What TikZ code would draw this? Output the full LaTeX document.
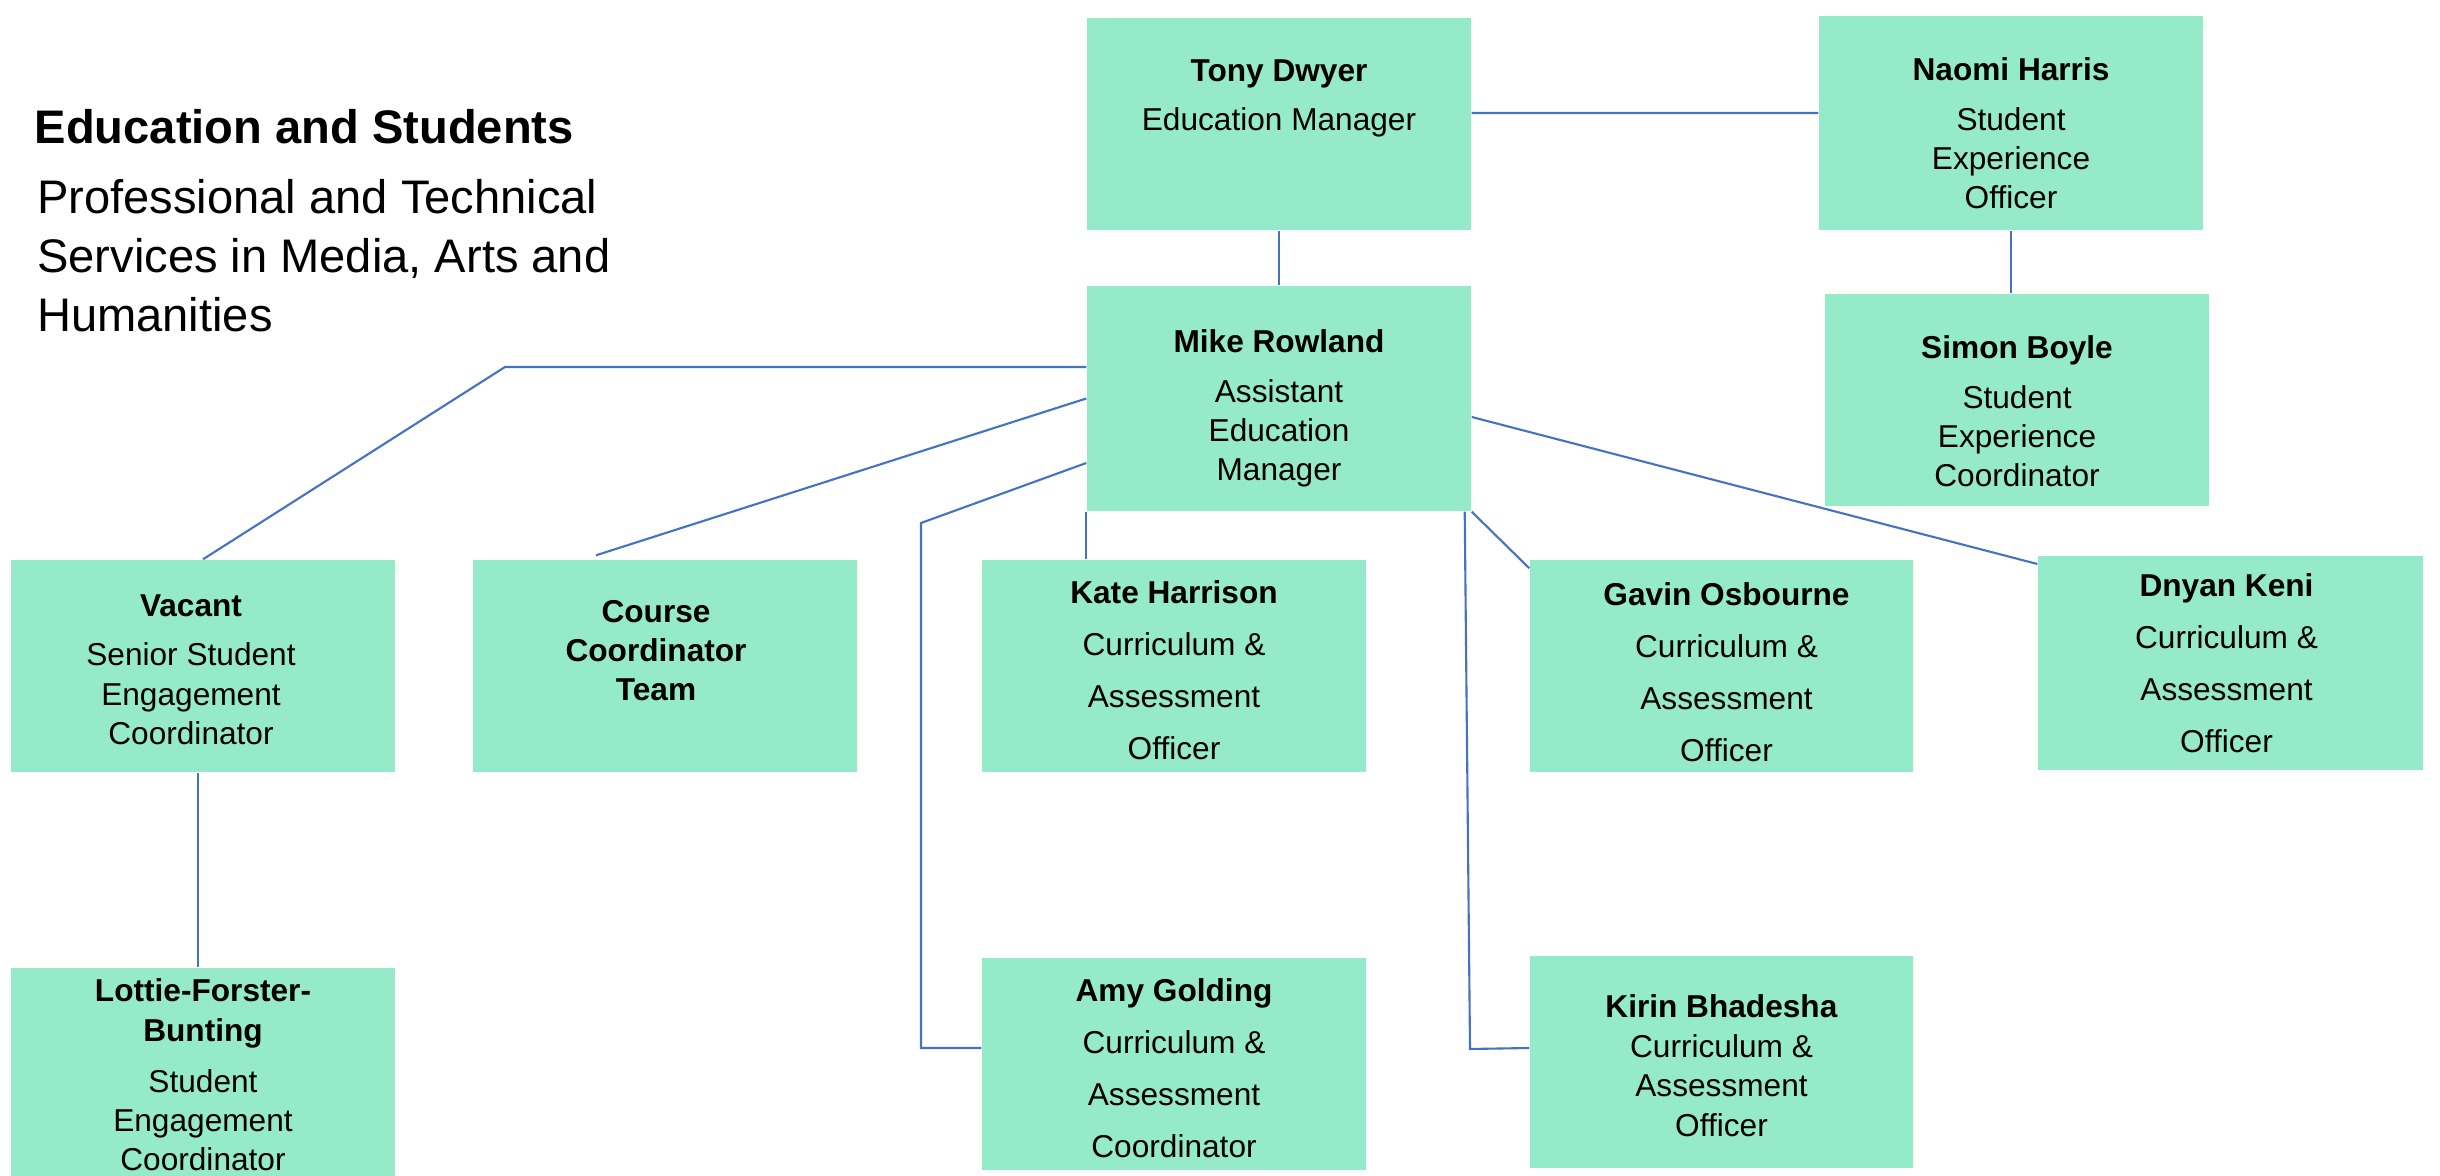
\documentclass[tikz,border=0pt]{standalone}
\usepackage{fontspec}
\setmainfont{Liberation Sans}
\usepackage{tikz}
\usetikzlibrary{positioning}
\definecolor{mint}{RGB}{149,234,202}
\definecolor{linkblue}{RGB}{68,114,196}
\tikzset{
    post/.style={
    rectangle,fill=mint,minimum width=3.84cm,minimum height=2.12cm,inner sep=0pt
    },
    info/.style={
    align=center,inner sep=0pt,font=\fontsize{9}{11.2}\selectfont
    },
    winfo/.style={
    align=center,inner sep=0pt,font=\fontsize{9}{14.8}\selectfont
    },
    link/.style={
    draw=linkblue,line width=0.6pt
    },
}
\begin{document}
\begin{tikzpicture}
   \useasboundingbox (0,0) rectangle (24.4,-11.76);

   %heading
   \node[anchor=base west,inner sep=0pt,font=\fontsize{13.4}{16}\selectfont\bfseries] (title) at (0.34,-1.44) {Education and Students};
   \node[anchor=north west,inner sep=0pt,align=left,font=\fontsize{13.4}{16.8}\selectfont] (subtitle) at (0.365,-1.786) {Professional and Technical\\Services in Media, Arts and\\Humanities};

   %top
   \node[post] (tony) at (12.79,-1.24) {};
   \node[post,minimum height=2.14cm] (naomi) at (20.11,-1.23) {};
   \node[post,minimum height=2.25cm] (mike) at (12.79,-3.985) {};
   \node[post] (simon) at (20.17,-4.00) {};

   %second row
   \node[post] (vacant) at (2.03,-6.66) {};
   \node[post] (course) at (6.65,-6.66) {};
   \node[post] (kate) at (11.74,-6.66) {};
   \node[post,minimum width=3.83cm] (gavin) at (17.215,-6.66) {};
   \node[post,minimum width=3.85cm,minimum height=2.14cm] (dnyan) at (22.305,-6.63) {};

   %bottom row
   \node[post,minimum height=2.08cm] (lottie) at (2.03,-10.72) {};
   \node[post] (amy) at (11.74,-10.64) {};
   \node[post,minimum width=3.83cm] (kirin) at (17.215,-10.62) {};

   %texts
   \node[info,below=4.2mm of tony.north] (tonyt) {\textbf{Tony Dwyer}\\[2.8pt]Education Manager};
   \node[info,below=4.2mm of naomi.north] (naomit) {\textbf{Naomi Harris}\\[2.8pt]Student\\Experience\\Officer};
   \node[info,below=4.4mm of mike.north] (miket) {\textbf{Mike Rowland}\\[2.8pt]Assistant\\Education\\Manager};
   \node[info,below=4.2mm of simon.north] (simont) {\textbf{Simon Boyle}\\[2.8pt]Student\\Experience\\Coordinator};
   \node[info,below=3.5mm of vacant.north,xshift=-1.2mm] (vacantt) {\textbf{Vacant}\\[2.8pt]Senior Student\\Engagement\\Coordinator};
   \node[info,below=4mm of course.north,xshift=-0.9mm,font=\fontsize{9}{11.2}\selectfont\bfseries] (courset) {Course\\Coordinator\\Team};
   \node[winfo,below=2.1mm of kate.north] (katet) {\textbf{Kate Harrison}\\Curriculum \&\\Assessment\\Officer};
   \node[winfo,below=2.3mm of gavin.north,xshift=0.5mm] (gavint) {\textbf{Gavin Osbourne}\\Curriculum \&\\Assessment\\Officer};
   \node[winfo,below=1.8mm of dnyan.north,xshift=-0.4mm] (dnyant) {\textbf{Dnyan Keni}\\Curriculum \&\\Assessment\\Officer};
   \node[info,below=1.1mm of lottie.north] (lottiet) {\textbf{Lottie-Forster-}\\\textbf{Bunting}\\[3.3pt]Student\\Engagement\\Coordinator};
   \node[winfo,below=2.1mm of amy.north] (amyt) {\textbf{Amy Golding}\\Curriculum \&\\Assessment\\Coordinator};
   \node[info,below=3.9mm of kirin.north] (kirint) {\textbf{Kirin Bhadesha}\\Curriculum \&\\Assessment\\Officer};

   %bends
   \coordinate (v1) at (5.05,-3.67);
   \coordinate (a1) at (9.21,-5.23);
   \coordinate (k1) at (14.70,-10.49);

   %lines
   \path[link] ([yshift=1.1mm]tony.east) -- ([yshift=1mm]naomi.west);
   \path[link] (tony.south) -- (mike.north);
   \path[link] (naomi.south) -- (naomi.south |- simon.north);
   \path[link] ([yshift=3.15mm]mike.west) -- (v1) -- (vacant.north);
   \path[link] (mike.west) -- ([xshift=-6.9mm,yshift=0.4mm]course.north);
   \path[link] ([yshift=-6.45mm]mike.west) -- (a1) |- ([yshift=1.6mm]amy.west);
   \path[link] (mike.south west) -- (mike.south west |- kate.north);
   \path[link] (mike.south east) -- ([yshift=-0.9mm]gavin.north west);
   \path[link] ([xshift=-0.7mm]mike.south east) -- (k1) -- ([yshift=1.4mm]kirin.west);
   \path[link] ([yshift=-1.85mm]mike.east) -- ([yshift=9.9mm]dnyan.west);
   \path[link] ([xshift=-0.5mm]vacant.south) -- ([xshift=-0.5mm]lottie.north);
\end{tikzpicture}
\end{document}
